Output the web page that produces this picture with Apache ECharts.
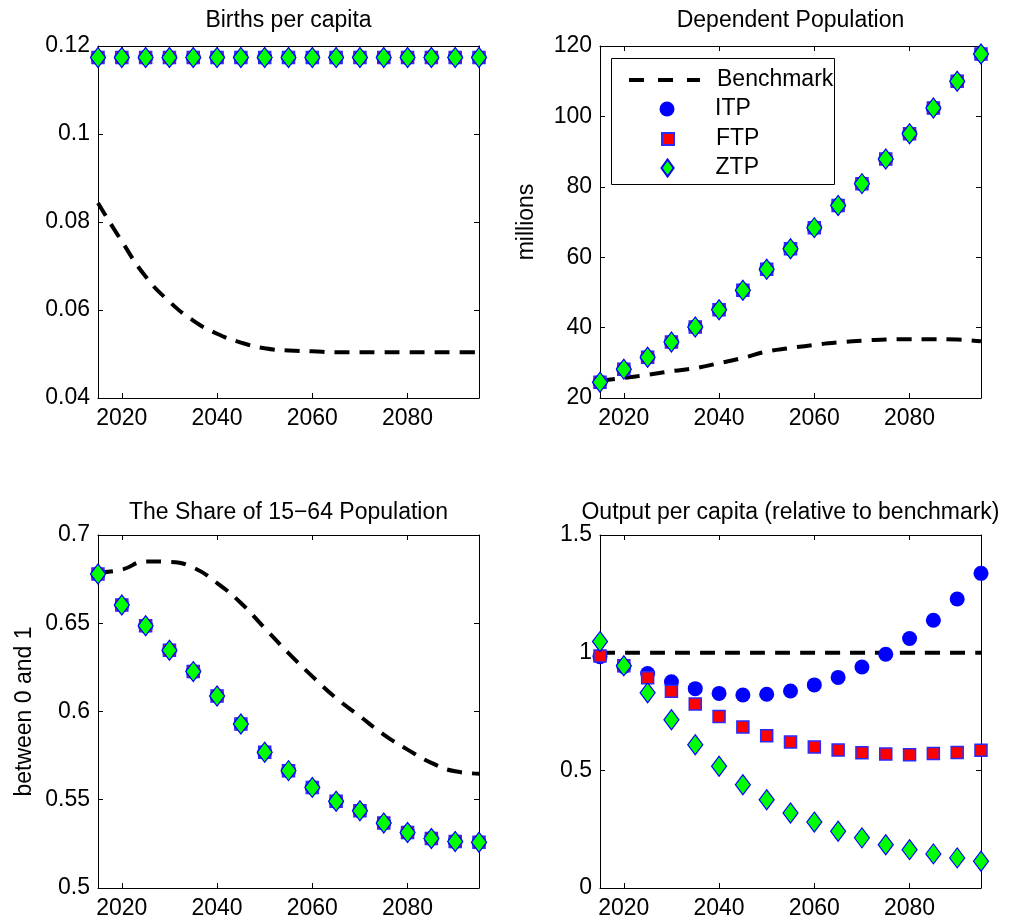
<!DOCTYPE html>
<html><head><meta charset="utf-8">
<script src="https://cdn.jsdelivr.net/npm/echarts@6/dist/echarts.min.js"></script>
<style>html,body{margin:0;padding:0;background:#fff}#c{width:1010px;height:924px}</style>
</head><body><div id="c"></div>
<script>
// ---------- data ----------
const years = [2015,2020,2025,2030,2035,2040,2045,2050,2055,2060,2065,2070,2075,2080,2085,2090,2095];
const xTicks = [2020,2040,2060,2080];

const birthsBenchmark = [0.0843,0.0756,0.0676,0.0619,0.0576,0.0546,0.0526,0.0513,0.0508,0.0506,0.0504,0.0504,0.0504,0.0504,0.0504,0.0504,0.0504];
const birthsITP = [0.1174,0.1174,0.1174,0.1174,0.1174,0.1174,0.1174,0.1174,0.1174,0.1174,0.1174,0.1174,0.1174,0.1174,0.1174,0.1174,0.1174];
const birthsFTP = [0.1174,0.1174,0.1174,0.1174,0.1174,0.1174,0.1174,0.1174,0.1174,0.1174,0.1174,0.1174,0.1174,0.1174,0.1174,0.1174,0.1174];
const birthsZTP = [0.1174,0.1174,0.1174,0.1174,0.1174,0.1174,0.1174,0.1174,0.1174,0.1174,0.1174,0.1174,0.1174,0.1174,0.1174,0.1174,0.1174];

const depBenchmark = [24.9,25.7,26.6,27.6,28.5,29.9,31.4,33.2,34.2,35.1,35.8,36.3,36.6,36.7,36.7,36.6,36.1];
const depITP = [24.5,28.2,31.6,35.9,40.2,45.1,50.6,56.6,62.4,68.4,74.7,80.9,87.9,95.1,102.4,110.0,117.7];
const depFTP = [24.5,28.2,31.6,35.9,40.2,45.1,50.6,56.6,62.4,68.4,74.7,80.9,87.9,95.1,102.4,110.0,117.7];
const depZTP = [24.5,28.2,31.6,35.9,40.2,45.1,50.6,56.6,62.4,68.4,74.7,80.9,87.9,95.1,102.4,110.0,117.7];

const shareBenchmark = [0.6788,0.6804,0.6850,0.6848,0.6815,0.6728,0.6615,0.6473,0.6331,0.6199,0.6076,0.5973,0.5869,0.5784,0.5709,0.5661,0.5648];
const shareITP = [0.6779,0.6603,0.6486,0.6347,0.6226,0.6088,0.5929,0.5769,0.5665,0.5570,0.5491,0.5438,0.5368,0.5315,0.5281,0.5264,0.5259];
const shareFTP = [0.6779,0.6603,0.6486,0.6347,0.6226,0.6088,0.5929,0.5769,0.5665,0.5570,0.5491,0.5438,0.5368,0.5315,0.5281,0.5264,0.5259];
const shareZTP = [0.6779,0.6603,0.6486,0.6347,0.6226,0.6088,0.5929,0.5769,0.5665,0.5570,0.5491,0.5438,0.5368,0.5315,0.5281,0.5264,0.5259];

const outputBenchmark = [1,1,1,1,1,1,1,1,1,1,1,1,1,1,1,1,1];
const outputITP = [0.983,0.941,0.911,0.876,0.847,0.827,0.820,0.823,0.837,0.863,0.895,0.939,0.993,1.060,1.138,1.228,1.337];
const outputFTP = [0.986,0.944,0.893,0.836,0.782,0.729,0.684,0.647,0.620,0.599,0.586,0.575,0.569,0.566,0.571,0.576,0.585];
const outputZTP = [1.047,0.944,0.830,0.715,0.609,0.517,0.439,0.375,0.319,0.280,0.241,0.213,0.184,0.163,0.145,0.128,0.114];

const titles = ['Births per capita','Dependent Population','The Share of 15\u221264 Population','Output per capita (relative to benchmark)'];
const yNames = ['','millions','between 0 and 1',''];
const yMin = [0.04, 20, 0.5, 0];
const yMax = [0.12, 120, 0.7, 1.5];
const yStep = [0.02, 20, 0.05, 0.5];

const panels = [
  [birthsBenchmark, birthsITP, birthsFTP, birthsZTP],
  [depBenchmark, depITP, depFTP, depZTP],
  [shareBenchmark, shareITP, shareFTP, shareZTP],
  [outputBenchmark, outputITP, outputFTP, outputZTP]
];

// ---------- layout / style ----------
const FONT = '"Liberation Sans", Arial, Helvetica, sans-serif';
const FS = 23;
const gridBoxes = [
  {left:98, top:46, width:381, height:352},
  {left:600, top:46, width:381, height:352},
  {left:98, top:535, width:381, height:353},
  {left:600, top:535, width:381, height:353}
];
const titleY = [21, 21, 513, 513];

const pair = (arr) => years.map((y, k) => [y, arr[k]]);
const lineStyleAxis = {color:'#000', width:1};

const xAxis = [], yAxis = [], series = [], graphic = [];
gridBoxes.forEach((g, i) => {
  xAxis.push({
    gridIndex:i, type:'value', min:2015, max:2095, position:'bottom',
    axisLine:{show:true, onZero:false, lineStyle:lineStyleAxis},
    axisTick:{show:true, inside:true, length:5, customValues:xTicks, lineStyle:lineStyleAxis},
    axisLabel:{customValues:xTicks, fontSize:FS, fontFamily:FONT, color:'#000', margin:9,
               formatter:(v) => String(Math.round(v))},
    splitLine:{show:false}
  });
  xAxis.push({
    gridIndex:i, type:'value', min:2015, max:2095, position:'top',
    axisLine:{show:true, onZero:false, lineStyle:lineStyleAxis},
    axisTick:{show:true, inside:true, length:5, customValues:xTicks, lineStyle:lineStyleAxis},
    axisLabel:{show:false},
    splitLine:{show:false}
  });
  yAxis.push({
    gridIndex:i, type:'value', min:yMin[i], max:yMax[i], interval:yStep[i], position:'left',
    name:yNames[i], nameLocation:'middle', nameGap:62,
    nameTextStyle:{fontSize:FS, fontFamily:FONT, color:'#000'},
    axisLine:{show:true, onZero:false, lineStyle:lineStyleAxis},
    axisTick:{show:true, inside:true, length:5, lineStyle:lineStyleAxis},
    axisLabel:{fontSize:FS, fontFamily:FONT, color:'#000', margin:8},
    splitLine:{show:false}
  });
  yAxis.push({
    gridIndex:i, type:'value', min:yMin[i], max:yMax[i], interval:yStep[i], position:'right',
    axisLine:{show:true, onZero:false, lineStyle:lineStyleAxis},
    axisTick:{show:true, inside:true, length:5, lineStyle:lineStyleAxis},
    axisLabel:{show:false},
    splitLine:{show:false}
  });

  const [bench, itp, ftp, ztp] = panels[i];
  series.push({
    name:'Benchmark', type:'line', xAxisIndex:2*i, yAxisIndex:2*i,
    data:pair(bench), smooth:true, symbol:'none',
    lineStyle:{color:'#000', width:4, type:[15,10]}, itemStyle:{color:'#000'},
    z:2, silent:true
  });
  series.push({
    name:'ITP', type:'scatter', xAxisIndex:2*i, yAxisIndex:2*i, clip:false,
    data:pair(itp), symbol:'circle', symbolSize:15,
    itemStyle:{color:'#0000ff', opacity:1}, z:3, silent:true
  });
  series.push({
    name:'FTP', type:'scatter', xAxisIndex:2*i, yAxisIndex:2*i, clip:false,
    data:pair(ftp), symbol:'rect', symbolSize:12,
    itemStyle:{color:'#ff0000', borderColor:'#2a2aff', borderWidth:1.5, opacity:1}, z:4, silent:true
  });
  series.push({
    name:'ZTP', type:'scatter', xAxisIndex:2*i, yAxisIndex:2*i, clip:false,
    data:pair(ztp), symbol:'diamond', symbolSize:[15,20],
    itemStyle:{color:'#00ff00', borderColor:'#0000ff', borderWidth:1.2, opacity:1}, z:5, silent:true
  });

  graphic.push({
    type:'text', x:g.left + g.width/2, y:titleY[i], silent:true,
    style:{text:titles[i], fontSize:FS, fontFamily:FONT, fill:'#000', align:'center', verticalAlign:'middle'}
  });
});

// legend box
graphic.push({
  type:'rect', z:6, silent:true,
  shape:{x:611.5, y:58.5, width:223, height:126},
  style:{fill:'#fff', stroke:'#000', lineWidth:1}
});

const legendText = {fontSize:FS, fontFamily:FONT, color:'#000', lineHeight:24};
// legends are positioned by the bounding box of their drawn content
const legend = [
  {data:['Benchmark'], left:627, top:68, padding:0, itemWidth:71, itemHeight:4, selectedMode:false, z:10,
   lineStyle:{color:'#000', width:4, type:[15,14]},
   textStyle:Object.assign({}, legendText, {padding:[0,0,0,12]})},
  {data:[{name:'ITP', icon:'circle'}], left:659.5, top:97, padding:0, itemWidth:86, itemHeight:15, selectedMode:false, z:10,
   textStyle:legendText},
  {data:[{name:'FTP', icon:'path://M0,0H10V10H0Z'}], left:661, top:127, padding:0, itemWidth:86, itemHeight:12, selectedMode:false, z:10,
   textStyle:legendText},
  {data:[{name:'ZTP', icon:'path://M5,0L10,7L5,14L0,7Z'}], left:660.5, top:156, padding:0, itemWidth:86, itemHeight:17, selectedMode:false, z:10,
   textStyle:legendText}
];

const chart = echarts.init(document.getElementById('c'), null, {renderer:'canvas'});
chart.setOption({
  animation:false,
  backgroundColor:'#fff',
  textStyle:{fontFamily:FONT},
  grid:gridBoxes.map(g => Object.assign({containLabel:false, show:false}, g)),
  xAxis, yAxis, series, legend, graphic
});
</script>
</body></html>
